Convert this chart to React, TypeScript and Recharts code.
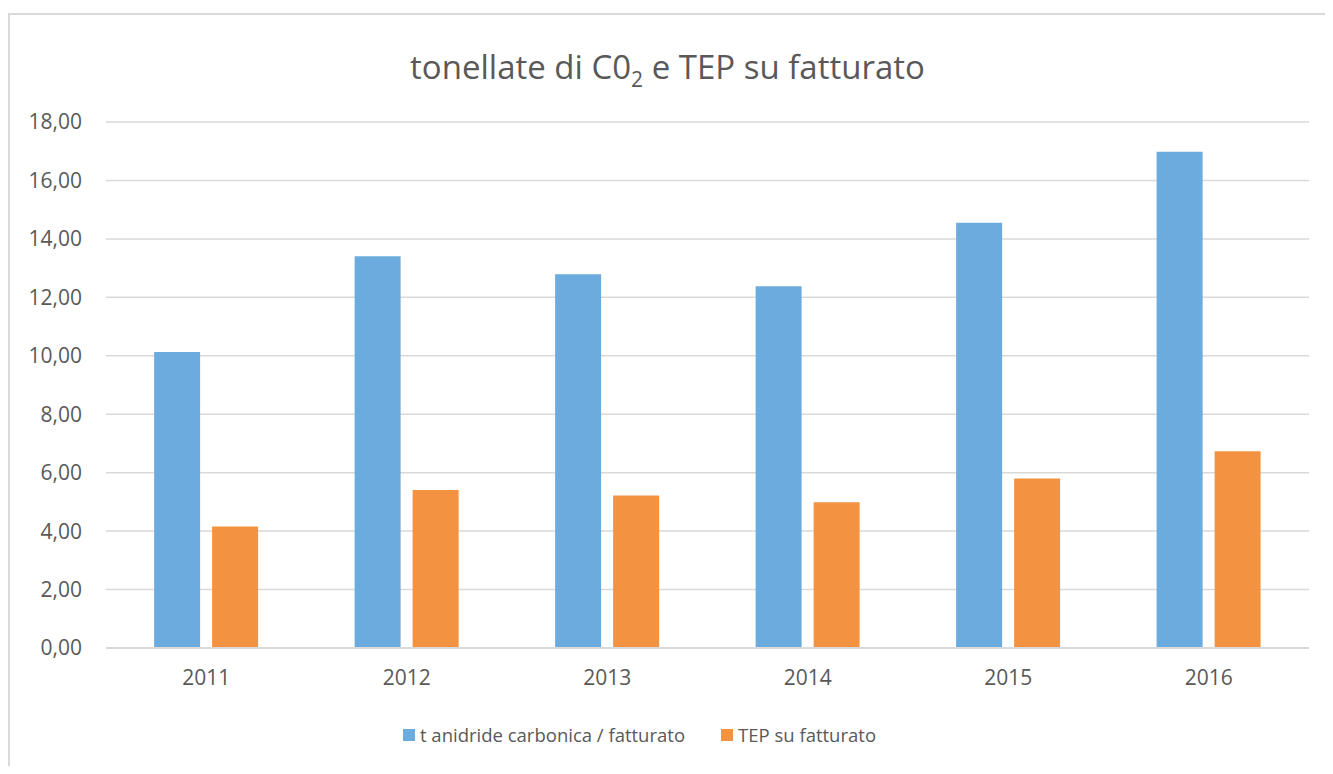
import React from 'react';
import { BarChart, Bar, XAxis, YAxis, CartesianGrid, Legend } from 'recharts';

const years = ['2011', '2012', '2013', '2014', '2015', '2016'];
const co2 = [10.13, 13.41, 12.79, 12.38, 14.55, 16.98];
const tep = [4.16, 5.41, 5.22, 4.99, 5.8, 6.73];
const yTicks = [0, 2, 4, 6, 8, 10, 12, 14, 16, 18];

const seriesNames = ['t anidride carbonica / fatturato', 'TEP su fatturato'];
const seriesColors = ['#6cabdd', '#f39241'];

const data = years.map((y, i) => ({ year: y, co2: co2[i], tep: tep[i] }));

const FONT = '"Open Sans", sans-serif';
const TEXT = '#595959';

const fmt = (v: number) => v.toFixed(2).replace('.', ',');

// legend drawn in the Excel order (series order), not sorted
const LegendBox = () => (
  <div
    style={{
      display: 'flex',
      justifyContent: 'center',
      paddingTop: 36,
      paddingRight: 76,
      fontSize: 18.5,
      color: TEXT,
    }}
  >
    {seriesNames.map((n, i) => (
      <div key={n} style={{ display: 'flex', alignItems: 'center', marginRight: i === 0 ? 36 : 0 }}>
        <span style={{ width: 12, height: 12, background: seriesColors[i], marginRight: 5, display: 'inline-block' }} />
        <span style={{ lineHeight: '22px' }}>{n}</span>
      </div>
    ))}
  </div>
);

const App: React.FC = () => {
  return (
    <div
      style={{
        position: 'relative',
        marginTop: 5,
        width: 1317,
        height: 753,
        borderLeft: '2px solid #d9d9d9',
        borderTop: '2px solid #d9d9d9',
        boxSizing: 'border-box',
        fontFamily: FONT,
        background: '#fff',
      }}
    >
      <div
        style={{
          position: 'absolute',
          top: 30,
          left: 0,
          width: '100%',
          textAlign: 'center',
          fontSize: 33,
          lineHeight: '44px',
          color: TEXT,
        }}
      >
        tonellate di C0<sub style={{ fontSize: 21, lineHeight: 0 }}>2</sub> e TEP su fatturato
      </div>
      <BarChart
        width={1315}
        height={751}
        data={data}
        margin={{ top: 107, right: 16, left: 36, bottom: 20 }}
        barGap={12}
        barCategoryGap="24%"
      >
        <CartesianGrid vertical={false} stroke="#d9d9d9" strokeWidth={1.5} />
        <XAxis
          dataKey="year"
          axisLine={{ stroke: '#d9d9d9', strokeWidth: 2 }}
          tickLine={false}
          tick={{ fill: TEXT, fontSize: 21, fontFamily: FONT }}
          tickMargin={16}
          height={40}
        />
        <YAxis
          domain={[0, 18]}
          ticks={yTicks}
          tickFormatter={fmt}
          axisLine={false}
          tickLine={false}
          tick={{ fill: TEXT, fontSize: 21, fontFamily: FONT }}
          tickMargin={18}
          width={60}
          interval={0}
        />
        <Legend verticalAlign="bottom" height={58} content={<LegendBox />} />
        <Bar dataKey="co2" name={seriesNames[0]} fill={seriesColors[0]} isAnimationActive={false} />
        <Bar dataKey="tep" name={seriesNames[1]} fill={seriesColors[1]} isAnimationActive={false} />
      </BarChart>
    </div>
  );
};

export default App;
